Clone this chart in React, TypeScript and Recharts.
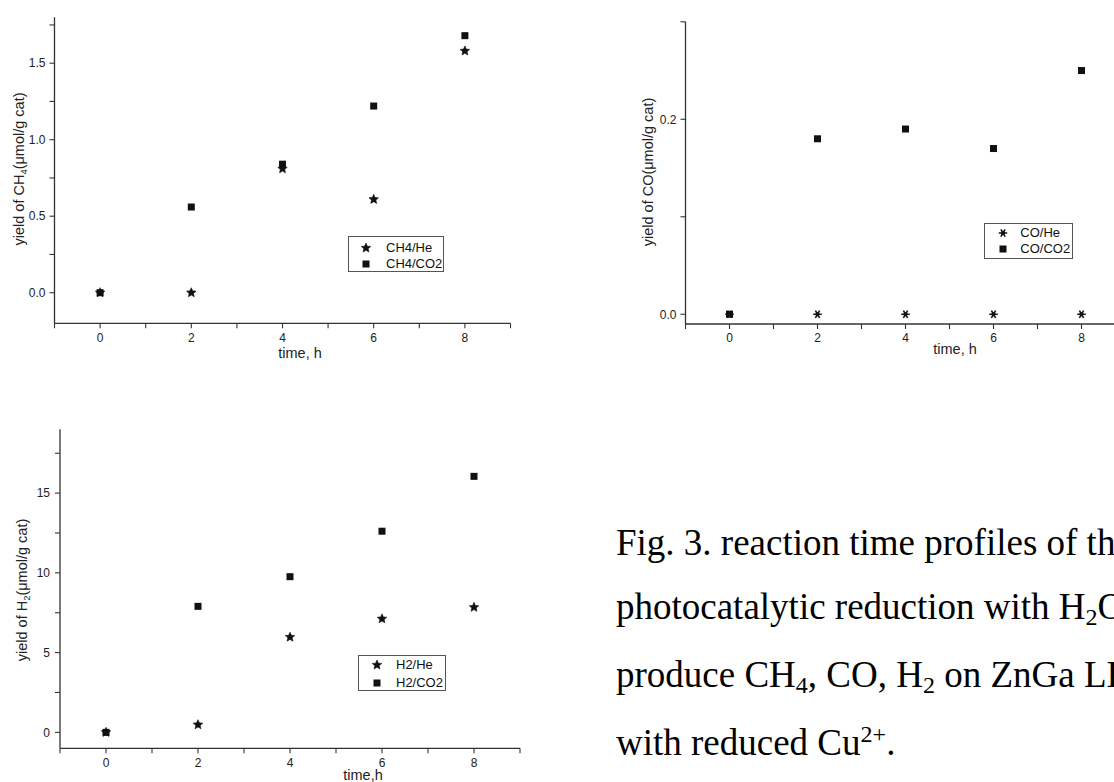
import React from 'react';
import { ScatterChart, Scatter, XAxis, YAxis, Legend } from 'recharts';

// ---- data ----
const timeH = [0, 2, 4, 6, 8];
const ch4He = [0, 0, 0.81, 0.61, 1.58];
const ch4CO2 = [0, 0.56, 0.84, 1.22, 1.68];
const coHe = [0, 0, 0, 0, 0];
const coCO2 = [0, 0.18, 0.19, 0.17, 0.25];
const h2He = [0, 0.48, 5.97, 7.12, 7.84];
const h2CO2 = [0, 7.9, 9.76, 12.61, 16.05];

const xTicks = [-1, 0, 1, 2, 3, 4, 5, 6, 7, 8, 9];
const xTickLabels = ['0', '2', '4', '6', '8'];
const ch4YTicks = [0, 0.25, 0.5, 0.75, 1, 1.25, 1.5, 1.75];
const ch4YLabels = ['0.0', '0.5', '1.0', '1.5'];
const coYTicks = [0, 0.1, 0.2, 0.3];
const coYLabels = ['0.0', '0.2'];
const h2YTicks = [0, 2.5, 5, 7.5, 10, 12.5, 15, 17.5];
const h2YLabels = ['0', '5', '10', '15'];

const toPoints = (ys: number[]) => timeH.map((x, i) => ({ x, y: ys[i] }));

const SANS = '"Liberation Sans", Arial, sans-serif';
const SERIF = '"Liberation Serif", "Times New Roman", serif';
const INK = '#111';

// ---- marker shapes ----
const starPath = (cx: number, cy: number, R: number, r: number) => {
  let d = '';
  for (let i = 0; i < 10; i++) {
    const a = -Math.PI / 2 + (i * Math.PI) / 5;
    const rad = i % 2 === 0 ? R : r;
    d += (i === 0 ? 'M' : 'L') + (cx + rad * Math.cos(a)).toFixed(2) + ' ' + (cy + rad * Math.sin(a)).toFixed(2);
  }
  return d + 'Z';
};

const SquareShape = (props: any) => {
  const { cx, cy } = props;
  if (cx == null || cy == null) return null;
  return <rect x={cx - 3.5} y={cy - 3.5} width={7} height={7} fill={INK} />;
};

const StarShape = (props: any) => {
  const { cx, cy } = props;
  if (cx == null || cy == null) return null;
  return <path d={starPath(cx, cy, 5, 2.3)} fill={INK} stroke={INK} strokeWidth={0.6} strokeLinejoin="round" />;
};

const AsteriskShape = (props: any) => {
  const { cx, cy } = props;
  if (cx == null || cy == null) return null;
  const r = 4.2;
  const c = Math.cos(Math.PI / 3) * r;
  const s = Math.sin(Math.PI / 3) * r;
  const d = `M${cx - r} ${cy}L${cx + r} ${cy}M${cx - c} ${cy - s}L${cx + c} ${cy + s}M${cx + c} ${cy - s}L${cx - c} ${cy + s}`;
  return (
    <g>
      <path d={d} stroke={INK} strokeWidth={1.6} fill="none" />
      <circle cx={cx} cy={cy} r={2} fill={INK} />
    </g>
  );
};

// ---- legend ----
type LegendBox = { left: number; top: number; w: number; h: number; symX: number; textX: number; rows: number[] };

const makeLegend = (items: { label: string; Shape: any }[], box: LegendBox) => () => (
  <div
    style={{
      position: 'absolute',
      left: box.left,
      top: box.top,
      width: box.w,
      height: box.h,
      border: '1px solid #555',
      boxSizing: 'border-box',
      background: '#fff',
      fontFamily: SANS,
      fontSize: 13,
      color: INK,
    }}
  >
    {items.map((it, i) => (
      <div key={it.label} style={{ position: 'absolute', left: 0, top: box.rows[i] - 8, height: 16, width: box.w }}>
        <svg width={14} height={16} style={{ position: 'absolute', left: box.symX - 7, top: 0 }}>
          <it.Shape cx={7} cy={8} />
        </svg>
        <span style={{ position: 'absolute', left: box.textX, top: 0, lineHeight: '16px', whiteSpace: 'nowrap' }}>{it.label}</span>
      </div>
    ))}
  </div>
);

const fmt = (labels: string[], digits: number | null) => (v: number) => {
  const s = digits == null ? String(v) : v.toFixed(digits);
  return labels.includes(s) ? s : '';
};

const axisCommon = {
  stroke: '#333',
  strokeWidth: 1.3,
  tickSize: 5,
  interval: 0 as const,
  allowDataOverflow: true,
  tick: { fontSize: 12, fill: '#222', fontFamily: SANS },
  tickLine: { stroke: '#333', strokeWidth: 1.1 },
};

const AxisTitle = ({ x, y, rotate, lh = 16, children }: { x: number; y: number; rotate?: boolean; lh?: number; children: React.ReactNode }) => (
  <div
    style={{
      position: 'absolute',
      left: x,
      top: y,
      transform: `translate(-50%, -50%)${rotate ? ' rotate(-90deg)' : ''}`,
      whiteSpace: 'nowrap',
      fontFamily: SANS,
      fontSize: 14.5,
      color: '#222',
      lineHeight: `${lh}px`,
    }}
  >
    {children}
  </div>
);

const subStyle: React.CSSProperties = { fontSize: '0.65em', position: 'relative', top: '0.3em', verticalAlign: 'baseline' };
const capSub: React.CSSProperties = { fontSize: '0.65em', position: 'relative', top: '0.25em', verticalAlign: 'baseline' };
const capSup: React.CSSProperties = { fontSize: '0.65em', position: 'relative', top: '-0.5em', verticalAlign: 'baseline' };

export default function App() {
  return (
    <div style={{ position: 'absolute', left: 0, top: 0, width: 1114, height: 782, overflow: 'hidden', background: '#fff' }}>
      {/* Chart 1: CH4 */}
      <div style={{ position: 'absolute', left: 0, top: 0 }}>
        <ScatterChart width={530} height={370} margin={{ top: 17.3, right: 19.5, bottom: 16.7, left: 0 }}>
          <XAxis
            {...axisCommon}
            type="number"
            dataKey="x"
            domain={[-1, 9]}
            ticks={xTicks}
            height={30}
            tickMargin={5}
            tickFormatter={fmt(xTickLabels, null)}
          />
          <YAxis
            {...axisCommon}
            type="number"
            dataKey="y"
            domain={[-0.2, 1.8]}
            ticks={ch4YTicks}
            width={54.5}
            tickMargin={4}
            tickFormatter={fmt(ch4YLabels, 1)}
          />
          <Legend
            wrapperStyle={{ position: 'absolute', left: 0, top: 0, width: 0, height: 0 }}
            content={makeLegend(
              [
                { label: 'CH4/He', Shape: StarShape },
                { label: 'CH4/CO2', Shape: SquareShape },
              ],
              { left: 348, top: 236, w: 96, h: 36, symX: 17, textX: 37, rows: [10.7, 26.7] }
            )}
          />
          <Scatter name="CH4/CO2" data={toPoints(ch4CO2)} shape={SquareShape} isAnimationActive={false} />
          <Scatter name="CH4/He" data={toPoints(ch4He)} shape={StarShape} isAnimationActive={false} />
        </ScatterChart>
      </div>

      {/* Chart 2: CO */}
      <div style={{ position: 'absolute', left: 600, top: 0 }}>
        <ScatterChart width={560} height={370} margin={{ top: 21.8, right: 34.5, bottom: 16, left: 0 }}>
          <XAxis
            {...axisCommon}
            type="number"
            dataKey="x"
            domain={[-1, 9]}
            ticks={xTicks}
            height={30}
            tickMargin={4}
            tickFormatter={fmt(xTickLabels, null)}
          />
          <YAxis
            {...axisCommon}
            type="number"
            dataKey="y"
            domain={[-0.01, 0.3]}
            ticks={coYTicks}
            width={85.5}
            tickMargin={4}
            tickFormatter={fmt(coYLabels, 1)}
          />
          <Legend
            wrapperStyle={{ position: 'absolute', left: 0, top: 0, width: 0, height: 0 }}
            content={makeLegend(
              [
                { label: 'CO/He', Shape: AsteriskShape },
                { label: 'CO/CO2', Shape: SquareShape },
              ],
              { left: 384.3, top: 222.7, w: 89, h: 36, symX: 17.4, textX: 35, rows: [9.6, 25.6] }
            )}
          />
          <Scatter name="CO/CO2" data={toPoints(coCO2)} shape={SquareShape} isAnimationActive={false} />
          <Scatter name="CO/He" data={toPoints(coHe)} shape={AsteriskShape} isAnimationActive={false} />
        </ScatterChart>
      </div>

      {/* Chart 3: H2 */}
      <div style={{ position: 'absolute', left: 0, top: 390 }}>
        <ScatterChart width={530} height={392} margin={{ top: 39.3, right: 10, bottom: 3.7, left: 0 }}>
          <XAxis
            {...axisCommon}
            type="number"
            dataKey="x"
            domain={[-1, 9]}
            ticks={xTicks}
            height={30}
            tickMargin={5}
            tickFormatter={fmt(xTickLabels, null)}
          />
          <YAxis
            {...axisCommon}
            type="number"
            dataKey="y"
            domain={[-1, 19]}
            ticks={h2YTicks}
            width={60}
            tickMargin={5}
            tickFormatter={fmt(h2YLabels, null)}
          />
          <Legend
            wrapperStyle={{ position: 'absolute', left: 0, top: 0, width: 0, height: 0 }}
            content={makeLegend(
              [
                { label: 'H2/He', Shape: StarShape },
                { label: 'H2/CO2', Shape: SquareShape },
              ],
              { left: 358, top: 265, w: 88, h: 36, symX: 18, textX: 37, rows: [9.3, 26.7] }
            )}
          />
          <Scatter name="H2/CO2" data={toPoints(h2CO2)} shape={SquareShape} isAnimationActive={false} />
          <Scatter name="H2/He" data={toPoints(h2He)} shape={StarShape} isAnimationActive={false} />
        </ScatterChart>
      </div>

      {/* axis titles */}
      <AxisTitle x={20} y={169} rotate>
        yield of CH<span style={subStyle}>4</span>(μmol/g cat)
      </AxisTitle>
      <AxisTitle x={300} y={353}>time, h</AxisTitle>
      <AxisTitle x={648} y={172} rotate>
        yield of CO(μmol/g cat)
      </AxisTitle>
      <AxisTitle x={955} y={349}>time, h</AxisTitle>
      <AxisTitle x={23} y={590} rotate>
        yield of H<span style={subStyle}>2</span>(μmol/g cat)
      </AxisTitle>
      <AxisTitle x={363} y={775} lh={13}>time,h</AxisTitle>

      {/* caption */}
      <div
        style={{
          position: 'absolute',
          left: 616,
          top: 510.5,
          fontFamily: SERIF,
          fontSize: 37,
          lineHeight: '64px',
          whiteSpace: 'nowrap',
          color: '#000',
        }}
      >
        <div>Fig. 3. reaction time profiles of the</div>
        <div>
          photocatalytic reduction with H<span style={capSub}>2</span>O to
        </div>
        <div>
          produce CH<span style={capSub}>4</span>, CO, H<span style={capSub}>2</span> on ZnGa LDH
        </div>
        <div>
          with reduced Cu<span style={capSup}>2+</span>.
        </div>
      </div>
    </div>
  );
}
